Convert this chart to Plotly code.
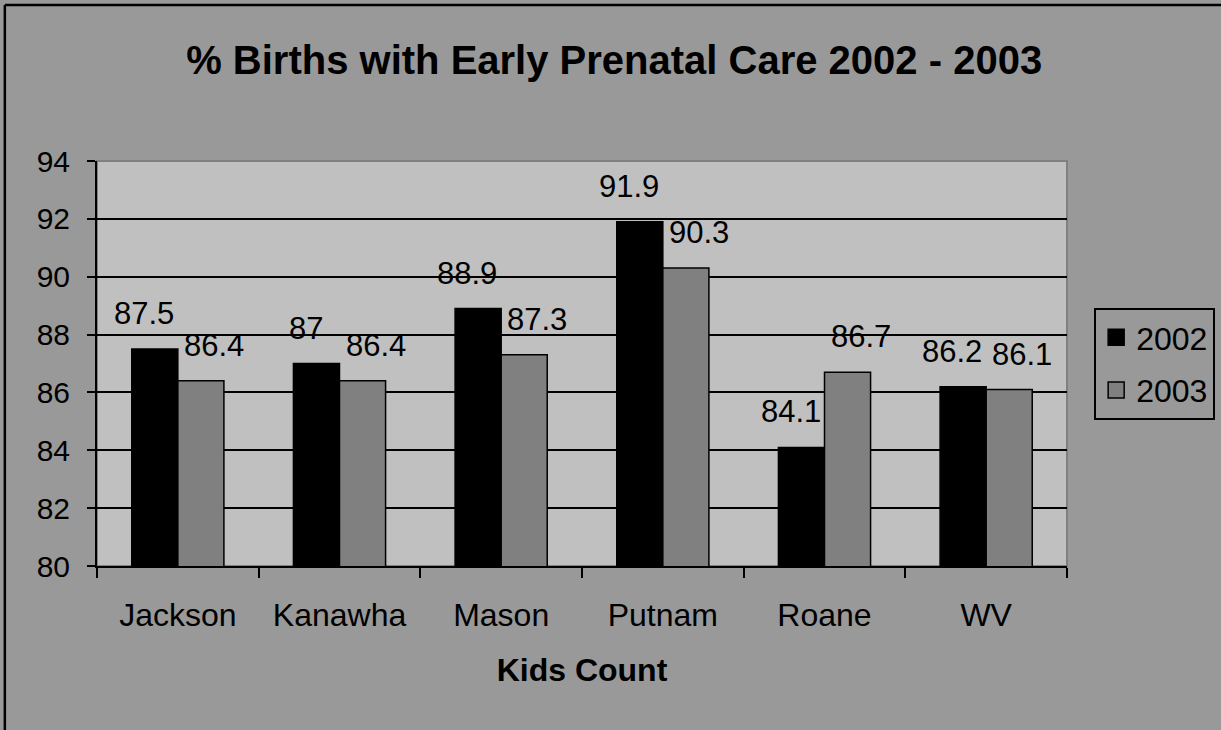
import plotly.graph_objects as go

categories = ["Jackson", "Kanawha", "Mason", "Putnam", "Roane", "WV"]
values_2002 = [87.5, 87, 88.9, 91.9, 84.1, 86.2]
values_2003 = [86.4, 86.4, 87.3, 90.3, 86.7, 86.1]
labels_2002 = ["87.5", "87", "88.9", "91.9", "84.1", "86.2"]
labels_2003 = ["86.4", "86.4", "87.3", "90.3", "86.7", "86.1"]
y_ticks = [80, 82, 84, 86, 88, 90, 92, 94]

FONT = "Arial, Liberation Sans, sans-serif"
C2002 = "#000000"
C2003 = "#808080"

fig = go.Figure()
fig.add_trace(go.Bar(name="2002", x=categories, y=values_2002, showlegend=False,
                     marker=dict(color=C2002, line=dict(color="#000000", width=1.5))))
fig.add_trace(go.Bar(name="2003", x=categories, y=values_2003, showlegend=False,
                     marker=dict(color=C2003, line=dict(color="#000000", width=1.5))))
# legend entries with larger square swatches
fig.add_trace(go.Scatter(name="2002", x=[None], y=[None], mode="markers", legendgroup="a",
                         marker=dict(symbol="square", size=18, color=C2002,
                                     line=dict(color="#000000", width=1.5))))
fig.add_trace(go.Scatter(name="2003", x=[None], y=[None], mode="markers", legendgroup="b",
                         marker=dict(symbol="square", size=18, color=C2003,
                                     line=dict(color="#000000", width=1.5))))

for cat, v, t in zip(categories, values_2002, labels_2002):
    fig.add_annotation(x=cat, y=v, text=t, showarrow=False, yanchor="bottom",
                       xshift=-34, yshift=16, font=dict(size=31, color="#000000", family=FONT))
for cat, v, t in zip(categories, values_2003, labels_2003):
    fig.add_annotation(x=cat, y=v, text=t, showarrow=False, yanchor="bottom",
                       xshift=36, yshift=16, font=dict(size=31, color="#000000", family=FONT))

# plot-area border (gray) and outer chart border (black, cut off on right/bottom)
fig.add_shape(type="rect", xref="paper", yref="paper", x0=0, x1=1, y0=0, y1=1,
              line=dict(color="#808080", width=2), layer="below")
fig.add_shape(type="line", xref="paper", yref="paper", x0=-0.095, x1=1.2, y0=1.385, y1=1.385,
              line=dict(color="#000000", width=2.5))
fig.add_shape(type="line", xref="paper", yref="paper", x0=-0.095, x1=-0.095, y0=1.385, y1=-0.5,
              line=dict(color="#000000", width=2.5))

fig.update_layout(
    width=1221, height=730,
    margin=dict(l=97, r=154, t=161, b=164, autoexpand=False),
    paper_bgcolor="#999999", plot_bgcolor="#c0c0c0",
    barmode="group", bargap=0.43, bargroupgap=0,
    font=dict(family=FONT, color="#000000"),
    title=dict(text="<b>% Births with Early Prenatal Care 2002 - 2003</b>",
               x=0.503, xref="container", xanchor="center",
               y=1 - 60 / 730, yref="container", yanchor="middle",
               font=dict(size=40, color="#000000", family=FONT)),
    legend=dict(x=1.028, y=0.637, xanchor="left", yanchor="top",
                bgcolor="#999999", bordercolor="#000000", borderwidth=2,
                font=dict(size=32, color="#000000", family=FONT),
                tracegroupgap=8, itemwidth=30),
    showlegend=True,
)
fig.update_xaxes(showline=True, linecolor="#000000", linewidth=2,
                 ticks="outside", ticklen=10, tickwidth=2, tickcolor="#000000",
                 tickson="boundaries", ticklabelstandoff=20,
                 tickfont=dict(size=32, family=FONT, color="#000000"),
                 title=dict(text="<b>Kids Count</b>", standoff=26,
                            font=dict(size=32, family=FONT, color="#000000")),
                 showgrid=False)
fig.update_yaxes(range=[80, 94], tickvals=y_ticks, showline=True, linecolor="#000000", linewidth=2,
                 ticks="outside", ticklen=8, tickwidth=2, tickcolor="#000000",
                 ticklabelstandoff=11,
                 tickfont=dict(size=30, family=FONT, color="#000000"),
                 showgrid=True, gridcolor="#000000", gridwidth=2, zeroline=False)

fig.write_html("out.html", config={"displayModeBar": False},
               post_script="document.body.style.margin='0px';")
